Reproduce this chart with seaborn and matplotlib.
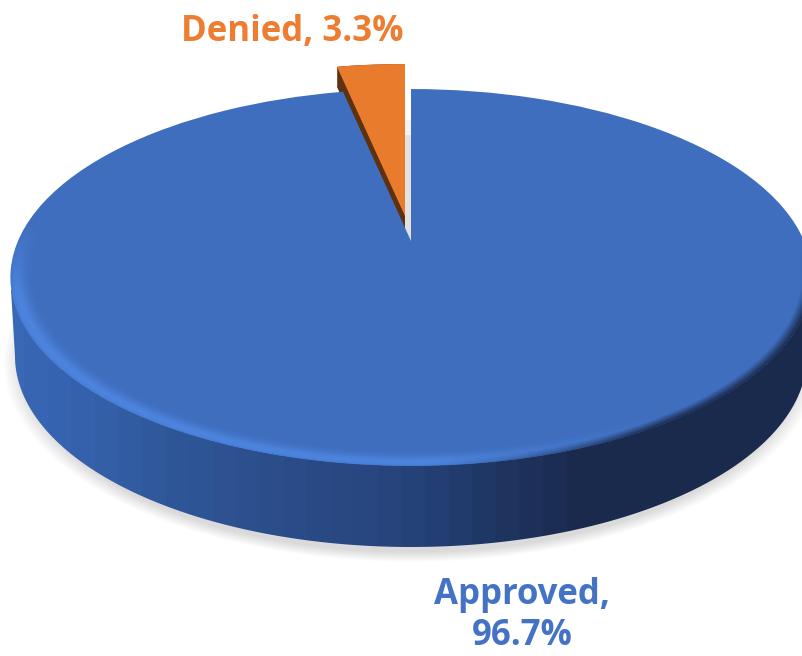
import numpy as np
import seaborn as sns
import matplotlib
matplotlib.use("Agg")
import matplotlib.pyplot as plt
from matplotlib.colors import LinearSegmentedColormap, to_rgb
from matplotlib.patches import Polygon
from matplotlib.transforms import Affine2D, Transform

categories = ["Denied", "Approved"]
shares = [3.3, 96.7]
colors = ["#E97B2D", "#3F6EBE"]
text_colors = ["#ED7D31", "#4472C4"]

W, H = 803, 656
# pie seen in perspective, numbers in pixels
cx, cy = 411, 241
a, b, k = 393, 181.4, 0.1937


class Tilt(Transform):
    input_dims = 2
    output_dims = 2

    def transform_non_affine(self, values):
        values = np.asarray(values, dtype=float)
        s = 1 + k * values[:, 1]
        return np.column_stack([cx + a * values[:, 0] / s, cy - b * values[:, 1] / s])


sns.set_theme(style="white")
plt.rcParams["font.family"] = ["Open Sans", "DejaVu Sans"]

fig = plt.figure(figsize=(W / 100, H / 100), dpi=100)
ax = fig.add_axes([0, 0, 1, 1])

xx, yy = np.meshgrid(np.arange(W) + 0.5, np.arange(H) + 0.5)

# soft shadow under the disc
rho = np.hypot((xx - 411) / 408, (yy - 362) / 200)
shade = np.zeros((H, W, 4))
shade[..., :3] = 0.45
shade[..., 3] = 0.26 * np.clip((1.0 - rho) / 0.05, 0, 1)
ax.imshow(shade, extent=(0, W, H, 0), aspect="auto", zorder=1)

# side wall, banded left to right
t = np.linspace(0, np.pi, 300)
lower = np.column_stack([411 - 396 * np.cos(t), 356 + 191 * np.sin(t)])
corners = np.array([[811, 290], [11, 290]])
wall_clip = Polygon(np.vstack([lower, corners]), transform=ax.transData)
wall_cmap = LinearSegmentedColormap.from_list(
    "wall",
    [(0, "#3868B6"), (0.1, "#3561AC"), (0.2, "#2F5899"), (0.32, "#2C4E8C"),
     (0.5, "#27447C"), (0.62, "#1F3663"), (0.72, "#1A2B4E"), (1, "#1A2A4C")],
    N=34,
)
wall = ax.imshow(np.linspace(0, 1, W)[None, :], cmap=wall_cmap, extent=(0, W, H, 0),
                 aspect="auto", zorder=2, interpolation="nearest")
wall.set_clip_path(wall_clip)

# gap shadow behind the pulled out slice
ax.fill_between([405, 412], [120, 120], [135, 135], color="#F3F3F3", lw=0, zorder=3)
ax.fill_between([405, 412], [135, 135], [241, 241], color="#E2E2E2", lw=0, zorder=3)

wedges, _ = ax.pie(shares, colors=colors, startangle=90, counterclock=True, radius=1)
ax.set_aspect("auto")

# the small slice sits higher and has a dark wall
tilt = Tilt()
wedges[0].set_transform(tilt + Affine2D().translate(-6, -25) + ax.transData)
wedges[0].set_zorder(6)
wedges[1].set_transform(tilt + ax.transData)
wedges[1].set_zorder(5)
wedges[1].set_linewidth(0)
wedges[0].set_linewidth(0)

for drop in range(-25, -4, 1):
    back = ax.pie(shares, colors=["#5E3210", "none"], startangle=90)[0][0]
    ax.set_aspect("auto")
    back.set_transform(tilt + Affine2D().translate(-6, drop) + ax.transData)
    back.set_zorder(4)
    back.set_linewidth(0)

# bevel on the rim of the top face
v = -(yy - cy) / (b + k * (yy - cy))
u = (xx - cx) * (1 + k * v) / a
rho = np.hypot(u, v)
left = np.clip((0.55 - u) / 0.5, 0, 1) * np.clip((0.1 - v) / 0.4, 0, 1)
right = np.clip((u - 0.05) / 0.45, 0, 1) * np.clip((-0.05 - v) / 0.3, 0, 1)
glow = np.exp(-(((rho - 0.985) / 0.022) ** 2)) * left
dark = np.clip((rho - 0.975) / 0.025, 0, 1) * right
rim = np.zeros((H, W, 4))
light_c, dark_c = np.array(to_rgb("#4F88E4")), np.array(to_rgb("#1A2B4E"))
mix = dark / np.maximum(dark + glow, 1e-6)
rim[..., :3] = light_c * (1 - mix[..., None]) + dark_c * mix[..., None]
rim[..., 3] = np.clip(glow * 0.85 + dark, 0, 1) * (rho <= 1.0)
rim_im = ax.imshow(rim, extent=(0, W, H, 0), aspect="auto", zorder=5.5)
rim_im.set_clip_path(wedges[1])

ax.set_xlim(0, W)
ax.set_ylim(H, 0)
ax.axis("off")

ax.text(292, 41, f"{categories[0]}, {shares[0]}%", color=text_colors[0], fontsize=25,
        fontweight="bold", ha="center", va="baseline")
ax.text(522, 604, f"{categories[1]},", color=text_colors[1], fontsize=25,
        fontweight="bold", ha="center", va="baseline")
ax.text(522, 645, f"{shares[1]}%", color=text_colors[1], fontsize=25,
        fontweight="bold", ha="center", va="baseline")

fig.savefig("out.png", dpi=100)
